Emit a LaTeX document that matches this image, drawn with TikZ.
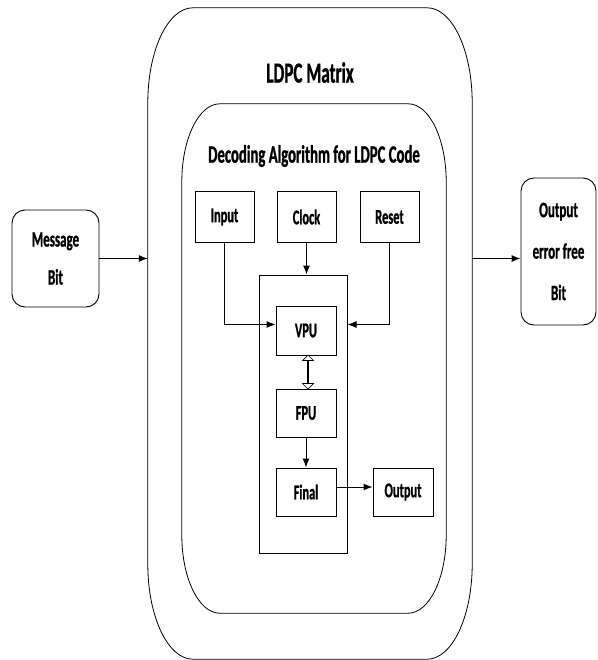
\documentclass[tikz,border=0pt]{standalone}
\usepackage{fontspec}
\newfontfamily\diafont{Carlito}[FakeStretch=0.59,FakeBold=1]
\usetikzlibrary{arrows.meta,shapes.arrows}

% frame with oval corners round a node: name, x radius, y radius
\newcommand{\roundframe}[3]{%
  \draw[line width=0.8pt] ([xshift=#2]#1.north west) -- ([xshift=-#2]#1.north east)
    arc[start angle=90,end angle=0,x radius=#2,y radius=#3]
    -- ([yshift=#3]#1.south east)
    arc[start angle=0,end angle=-90,x radius=#2,y radius=#3]
    -- ([xshift=#2]#1.south west)
    arc[start angle=270,end angle=180,x radius=#2,y radius=#3]
    -- ([yshift=-#3]#1.north west)
    arc[start angle=180,end angle=90,x radius=#2,y radius=#3] -- cycle;}

\begin{document}
\begin{tikzpicture}[x=1pt,y=-1pt,
    box/.style={draw,line width=1pt,inner sep=0pt,minimum width=60pt,minimum height=49pt,
      font=\diafont\bfseries\fontsize{21}{24}\selectfont},
    side/.style={draw,line width=0.9pt,rounded corners=13pt,align=center,inner sep=0pt},
    flow/.style={-{Latex[length=9pt,width=7pt]},line width=1pt}
  ]
  \useasboundingbox (0,0) rectangle (597,660);

  % frames
  \node[minimum width=324pt,minimum height=651pt,inner sep=0pt] (ldpc) at (310,333.5) {};
  \roundframe{ldpc}{45pt}{95pt}
  \node[minimum width=264pt,minimum height=509pt,inner sep=0pt] (decoder) at (314,358.5) {};
  \roundframe{decoder}{38pt}{78pt}
  \node[font=\diafont\bfseries\fontsize{29}{32}\selectfont] (ldpctitle) at (310,72.5) {LDPC Matrix};
  \node[font=\diafont\bfseries\fontsize{25}{28}\selectfont] (dectitle) at (314,156) {Decoding Algorithm for LDPC Code};

  % blocks
  \node[box,minimum width=59pt,minimum height=50pt] (input) at (224.5,217) {Input};
  \node[box,minimum width=59pt,minimum height=50pt] (clock) at (306.5,217) {Clock};
  \node[box,minimum width=59pt,minimum height=50pt] (reset) at (389.5,217) {Reset};
  \node[draw,line width=1pt,minimum width=88pt,minimum height=278pt] (core) at (303,414) {};
  \node[box] (vpu) at (306,330.5) {VPU};
  \node[box,minimum height=48pt] (fpu) at (306,413) {FPU};
  \node[box,minimum height=48pt] (final) at (306,492) {Final};
  \node[box,minimum height=48pt] (output) at (403,492) {Output};
  \node[draw,double arrow,shape border rotate=90,minimum height=34pt,minimum width=11pt,
    inner sep=0pt,double arrow head extend=3pt,double arrow head indent=0pt,
    line width=0.7pt,fill=white] (link) at (308,372) {};

  % outside
  \node[side,minimum width=87pt,minimum height=97pt,
    font=\diafont\bfseries\fontsize{22}{38}\selectfont] (msg) at (55.5,258.5) {Message\\Bit};
  \node[side,minimum width=75pt,minimum height=147pt,
    font=\diafont\bfseries\fontsize{22}{41.5}\selectfont] (errfree) at (558.5,251.5) {Output\\error free\\Bit};

  % connectors
  \coordinate (tap) at ([yshift=6pt]vpu.west);
  \draw[flow] (clock.south) -- (clock.south |- core.north);
  \draw[flow] (input.south) |- (tap);
  \draw[flow] (reset.south) |- (tap -| core.east);
  \draw[flow] (fpu) -- (final);
  \draw[flow] ([yshift=5pt]final.east) -- ([yshift=5pt]output.west);
  \draw[flow] (msg.east) -- (msg.east -| ldpc.west);
  \draw[flow] (msg.east -| ldpc.east) -- (msg.east -| errfree.west);
\end{tikzpicture}
\end{document}
